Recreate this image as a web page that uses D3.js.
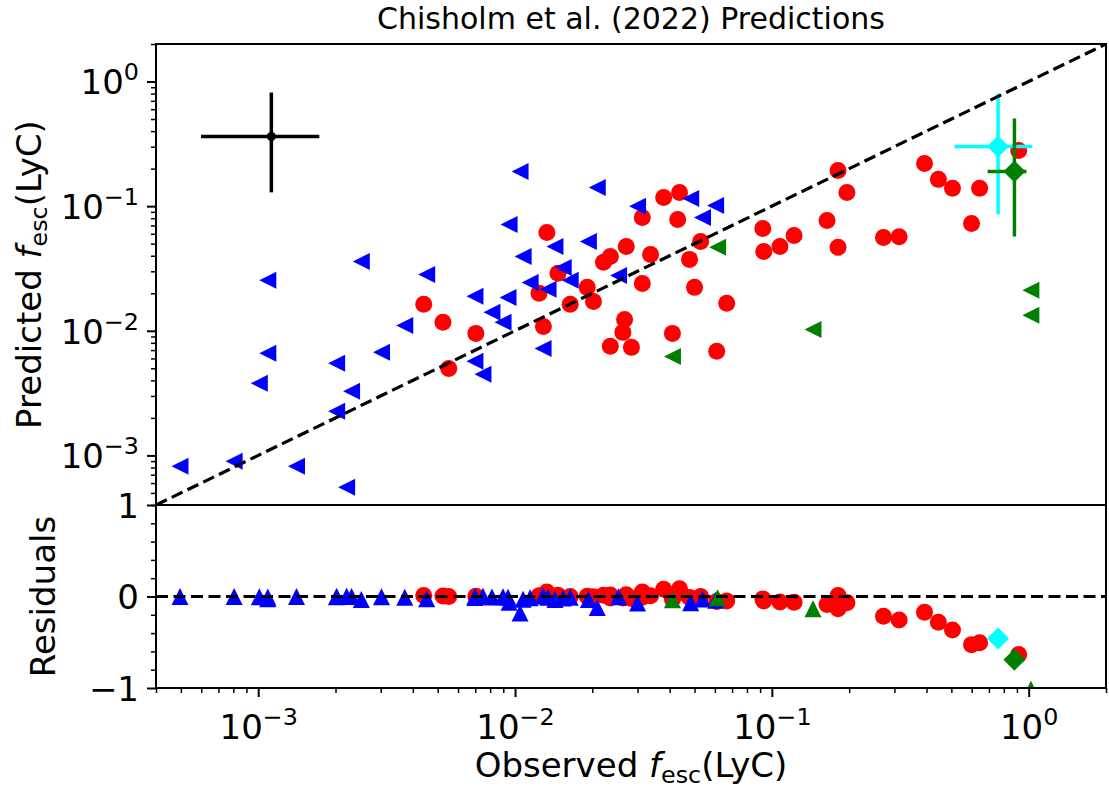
<!DOCTYPE html>
<html>
<head>
<meta charset="utf-8">
<script src="https://cdn.jsdelivr.net/npm/d3@7"></script>
<style>
  body { margin: 0; background: #fff; }
  text { fill: #000; }
</style>
</head>
<body>
<script>
// ---- data ----
const axisRange = [4e-4, 2];
const xMajor = [1e-3, 1e-2, 1e-1, 1];
const xMajorExp = ["\u22123", "\u22122", "\u22121", "0"];
const yMajor = [1e-3, 1e-2, 1e-1, 1];
const yMajorExp = ["\u22123", "\u22122", "\u22121", "0"];
const resRange = [-1, 1];
const resMajor = [-1, 0, 1];
const resLabels = ["\u22121", "0", "1"];
const resMinor = [-0.8, -0.6, -0.4, -0.2, 0.2, 0.4, 0.6, 0.8];

// blue: upper limits on observed fesc
const blueObs = [0.000496, 0.000806, 0.00141, 0.00221, 0.00101, 0.00109, 0.00109, 0.00252, 0.00202, 0.00231,
  0.00202, 0.00302, 0.00372, 0.00453, 0.00698, 0.00813, 0.00898, 0.00939, 0.00698, 0.0075,
  0.01075, 0.01145, 0.01046, 0.00948, 0.0143, 0.01345, 0.01286, 0.0209, 0.030, 0.0483,
  0.0604, 0.0537, 0.0193, 0.0154, 0.0164, 0.0253];
const bluePred = [0.000818, 0.000897, 0.000818, 0.000555, 0.00379, 0.00659, 0.0254, 0.036, 0.00548, 0.00327,
  0.00226, 0.00671, 0.011, 0.0283, 0.0189, 0.0141, 0.0117, 0.0185, 0.00569, 0.00447,
  0.0395, 0.0244, 0.19, 0.0713, 0.0475, 0.0215, 0.00722, 0.141, 0.10, 0.115,
  0.101, 0.0811, 0.0521, 0.0322, 0.0254, 0.0278];
const blueResid = [0.000, 0.000, 0.001, 0.002, -0.003, -0.006, -0.024, -0.034, -0.004, -0.001,
  0.000, -0.004, -0.007, -0.024, -0.012, -0.006, -0.003, -0.009, 0.001, 0.003,
  -0.029, -0.013, -0.180, -0.062, -0.033, -0.008, 0.006, -0.120, -0.070, -0.067,
  -0.041, -0.027, -0.033, -0.017, -0.009, -0.003];

// red: detections
const redObs = [0.00441, 0.00524, 0.00704, 0.00552, 0.0124, 0.0129, 0.0133, 0.0379, 0.0437, 0.0313,
  0.0430, 0.0528, 0.0271, 0.0235, 0.0221, 0.0337, 0.0478, 0.0147, 0.0191, 0.0164,
  0.0202, 0.0313, 0.050, 0.0667, 0.0267, 0.0263, 0.0235, 0.0284, 0.041, 0.061,
  0.0922, 0.093, 0.1075, 0.122, 0.164, 0.181, 0.181, 0.196, 0.272, 0.313,
  0.393, 0.445, 0.505, 0.644, 0.599, 0.914];
const redPred = [0.0163, 0.0117, 0.00953, 0.00499, 0.020, 0.0108, 0.0615, 0.1174, 0.1288, 0.0811,
  0.0782, 0.0521, 0.0475, 0.0395, 0.0354, 0.041, 0.0374, 0.0289, 0.0223, 0.0163,
  0.0172, 0.024, 0.0223, 0.0166, 0.0123, 0.00971, 0.0075, 0.00736, 0.00953, 0.00684,
  0.0662, 0.0433, 0.0475, 0.0582, 0.0768, 0.0467, 0.193, 0.1288, 0.0561, 0.0567,
  0.220, 0.164, 0.139, 0.139, 0.0727, 0.280];
const redResid = [0.012, 0.006, 0.002, -0.001, 0.008, -0.002, 0.048, 0.080, 0.085, 0.050,
  0.035, -0.001, 0.020, 0.016, 0.013, 0.007, -0.010, 0.014, 0.003, 0.000,
  -0.003, -0.007, -0.028, -0.050, -0.014, -0.017, -0.016, -0.021, -0.031, -0.054,
  -0.026, -0.050, -0.060, -0.064, -0.087, -0.134, 0.012, -0.067, -0.216, -0.256,
  -0.173, -0.281, -0.366, -0.505, -0.526, -0.634];

// green triangles
const greenObs = [0.0615, 0.041, 0.1446, 1.02, 1.02];
const greenPred = [0.0467, 0.00623, 0.01026, 0.0211, 0.0133];
const greenResid = [-0.015, -0.035, -0.134, -1.015, -1.023];

// diamonds with error bars: [obs, pred, obsLo, obsHi, predLo, predHi, resid]
const cyanPoint = [0.76, 0.301, 0.514, 1.03, 0.086, 0.80, -0.46];
const greenDiamond = [0.88, 0.19, 0.692, 0.98, 0.057, 0.505, -0.69];
// typical error bar shown top left
const refBar = [0.001125, 0.362, 0.000599, 0.00173, 0.129, 0.816];

// ---- layout ----
const W = 1109, H = 790;
const pL = 156, pR = 1106, pT = 44, pM = 505, pB = 688;
const FS = 34;       // tick labels
const LFS = 34;      // axis labels
const TFS = 30;      // title

const svg = d3.select("body").append("svg")
  .attr("width", W).attr("height", H)
  .style("font-family", "'DejaVu Sans', sans-serif");

const x = d3.scaleLog().domain(axisRange).range([pL, pR]);
const y = d3.scaleLog().domain(axisRange).range([pM, pT]);
const yr = d3.scaleLinear().domain(resRange).range([pB, pM]);

// minor log ticks
const minorLog = [];
[1e-4, 1e-3, 1e-2, 1e-1, 1].forEach(b => {
  for (let k = 2; k < 10; k++) {
    const v = k * b;
    if (v >= axisRange[0] * 0.999 && v <= axisRange[1] * 1.001) minorLog.push(v);
  }
});

const triLeft = s => `M${-s / 2},0L${s / 2},${-s / 2}L${s / 2},${s / 2}Z`;
const triUp = s => `M0,${-s / 2}L${s / 2},${s / 2}L${-s / 2},${s / 2}Z`;
const diamond = h => `M0,${-h}L${h},0L0,${h}L${-h},0Z`;
const MS = 17;

const defs = svg.append("defs");
defs.append("clipPath").attr("id", "clipTop")
  .append("rect").attr("x", pL).attr("y", pT).attr("width", pR - pL).attr("height", pM - pT);
defs.append("clipPath").attr("id", "clipBot")
  .append("rect").attr("x", pL).attr("y", pM).attr("width", pR - pL).attr("height", pB - pM);

function styleAxis(g, major) {
  g.select(".domain").remove();
  g.attr("font-size", FS).attr("font-family", null);
  g.selectAll(".tick line").attr("stroke", "#000").attr("stroke-width", major ? 2 : 1.5);
}

function powerLabels(g, exps, supDy) {
  g.selectAll(".tick text").each(function(d, i) {
    const t = d3.select(this).text("10");
    t.append("tspan").attr("font-size", FS * 0.7).attr("dy", supDy).text(exps[i]);
  });
}

// ---- top panel ----
const topG = svg.append("g");
const topPlot = topG.append("g").attr("clip-path", "url(#clipTop)");

topPlot.append("g").selectAll("circle").data(redObs).join("circle")
  .attr("cx", d => x(d)).attr("cy", (d, i) => y(redPred[i])).attr("r", MS / 2)
  .attr("fill", "#ff0000");

topPlot.append("g").selectAll("path").data(blueObs).join("path")
  .attr("d", triLeft(MS))
  .attr("transform", (d, i) => `translate(${x(d)},${y(bluePred[i])})`)
  .attr("fill", "#0000ff");

topPlot.append("g").selectAll("path").data(greenObs).join("path")
  .attr("d", triLeft(MS))
  .attr("transform", (d, i) => `translate(${x(d)},${y(greenPred[i])})`)
  .attr("fill", "#008000");

function errorBar(g, p, color, lw) {
  g.append("line").attr("x1", x(p[2])).attr("x2", x(p[3])).attr("y1", y(p[1])).attr("y2", y(p[1]))
    .attr("stroke", color).attr("stroke-width", lw);
  g.append("line").attr("x1", x(p[0])).attr("x2", x(p[0])).attr("y1", y(p[4])).attr("y2", y(p[5]))
    .attr("stroke", color).attr("stroke-width", lw);
}

errorBar(topPlot, refBar, "#000", 3.5);
topPlot.append("circle").attr("cx", x(refBar[0])).attr("cy", y(refBar[1])).attr("r", 4.5).attr("fill", "#000");

errorBar(topPlot, cyanPoint, "#00ffff", 3.5);
topPlot.append("path").attr("d", diamond(11))
  .attr("transform", `translate(${x(cyanPoint[0])},${y(cyanPoint[1])})`).attr("fill", "#00ffff");

errorBar(topPlot, greenDiamond, "#008000", 3.5);
topPlot.append("path").attr("d", diamond(11))
  .attr("transform", `translate(${x(greenDiamond[0])},${y(greenDiamond[1])})`).attr("fill", "#008000");

// one-to-one line
topPlot.append("line")
  .attr("x1", x(axisRange[0])).attr("y1", y(axisRange[0]))
  .attr("x2", x(axisRange[1])).attr("y2", y(axisRange[1]))
  .attr("stroke", "#000").attr("stroke-width", 3.2).attr("stroke-dasharray", "12,5.5");

// y axis (log)
const gyMinor = topG.append("g").attr("transform", `translate(${pL},0)`)
  .call(d3.axisLeft(y).tickValues(minorLog).tickSize(5).tickFormat(""));
styleAxis(gyMinor, false);
const gy = topG.append("g").attr("transform", `translate(${pL},0)`)
  .call(d3.axisLeft(y).tickValues(yMajor).tickSize(9).tickPadding(8));
styleAxis(gy, true);
gy.selectAll(".tick text").attr("dy", "0.36em");
powerLabels(gy, yMajorExp, -14);

topG.append("rect").attr("x", pL).attr("y", pT).attr("width", pR - pL).attr("height", pM - pT)
  .attr("fill", "none").attr("stroke", "#000").attr("stroke-width", 2);

// ---- residual panel ----
const botG = svg.append("g");
const botPlot = botG.append("g").attr("clip-path", "url(#clipBot)");

botPlot.append("g").selectAll("circle").data(redObs).join("circle")
  .attr("cx", d => x(d)).attr("cy", (d, i) => yr(redResid[i])).attr("r", MS / 2)
  .attr("fill", "#ff0000");

botPlot.append("g").selectAll("path").data(blueObs).join("path")
  .attr("d", triUp(MS))
  .attr("transform", (d, i) => `translate(${x(d)},${yr(blueResid[i])})`)
  .attr("fill", "#0000ff");

botPlot.append("g").selectAll("path").data(greenObs).join("path")
  .attr("d", triUp(MS))
  .attr("transform", (d, i) => `translate(${x(d)},${yr(greenResid[i])})`)
  .attr("fill", "#008000");

botPlot.append("path").attr("d", diamond(11))
  .attr("transform", `translate(${x(cyanPoint[0])},${yr(cyanPoint[6])})`).attr("fill", "#00ffff");
botPlot.append("path").attr("d", diamond(11))
  .attr("transform", `translate(${x(greenDiamond[0])},${yr(greenDiamond[6])})`).attr("fill", "#008000");

botPlot.append("line")
  .attr("x1", pL).attr("x2", pR).attr("y1", yr(0)).attr("y2", yr(0))
  .attr("stroke", "#000").attr("stroke-width", 3.2).attr("stroke-dasharray", "12,5.5");

const grMinor = botG.append("g").attr("transform", `translate(${pL},0)`)
  .call(d3.axisLeft(yr).tickValues(resMinor).tickSize(5).tickFormat(""));
styleAxis(grMinor, false);
const gr = botG.append("g").attr("transform", `translate(${pL},0)`)
  .call(d3.axisLeft(yr).tickValues(resMajor).tickSize(9).tickPadding(8)
    .tickFormat((d, i) => resLabels[i]));
styleAxis(gr, true);
gr.selectAll(".tick text").attr("dy", "0.36em");

const gxMinor = botG.append("g").attr("transform", `translate(0,${pB})`)
  .call(d3.axisBottom(x).tickValues(minorLog).tickSize(5).tickFormat(""));
styleAxis(gxMinor, false);
const gx = botG.append("g").attr("transform", `translate(0,${pB})`)
  .call(d3.axisBottom(x).tickValues(xMajor).tickSize(9));
styleAxis(gx, true);
gx.selectAll(".tick text").attr("y", 51).attr("dy", 0);
powerLabels(gx, xMajorExp, -14);

botG.append("rect").attr("x", pL).attr("y", pM).attr("width", pR - pL).attr("height", pB - pM)
  .attr("fill", "none").attr("stroke", "#000").attr("stroke-width", 2);

// ---- titles and labels ----
const cx = (pL + pR) / 2;
svg.append("text").attr("x", cx).attr("y", 29).attr("text-anchor", "middle")
  .attr("font-size", TFS).text("Chisholm et al. (2022) Predictions");

function fescLabel(t, prefix) {
  t.append("tspan").text(prefix);
  t.append("tspan").attr("font-style", "italic").text("f");
  t.append("tspan").attr("font-size", LFS * 0.7).attr("dy", 6).text("esc");
  t.append("tspan").attr("dy", -6).text("(LyC)");
}

const xl = svg.append("text").attr("x", cx).attr("y", 777).attr("text-anchor", "middle").attr("font-size", LFS);
fescLabel(xl, "Observed ");

const yl = svg.append("text").attr("text-anchor", "middle").attr("font-size", LFS)
  .attr("transform", `translate(41,${(pT + pM) / 2}) rotate(-90)`);
fescLabel(yl, "Predicted ");

svg.append("text").attr("text-anchor", "middle").attr("font-size", LFS)
  .attr("transform", `translate(55,${(pM + pB) / 2}) rotate(-90)`)
  .text("Residuals");
</script>
</body>
</html>
